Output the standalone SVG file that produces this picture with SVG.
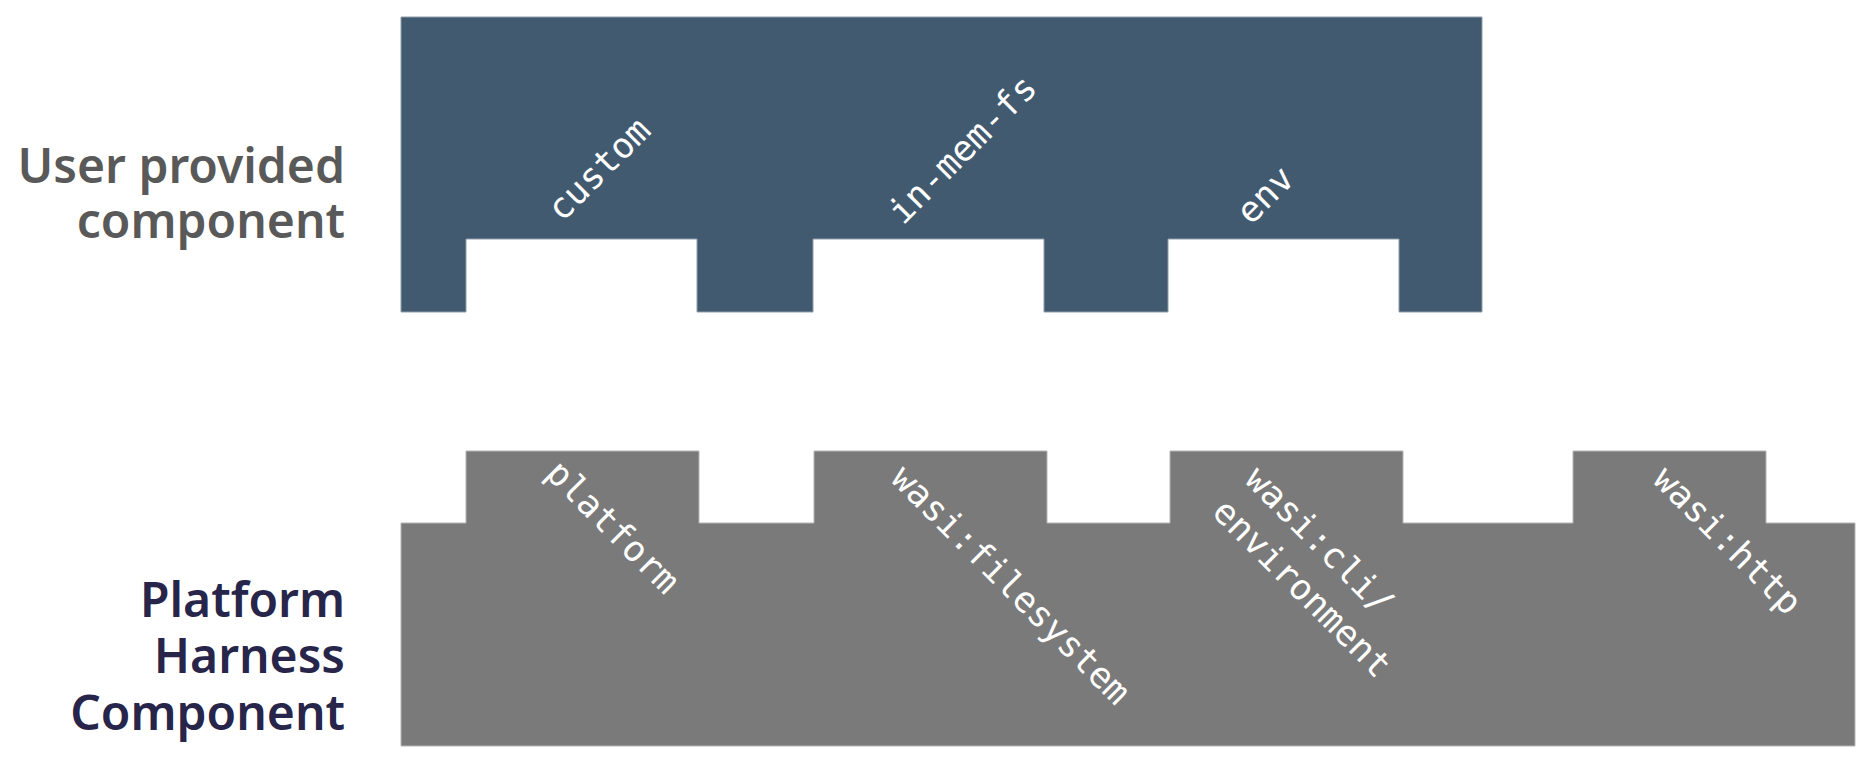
<svg xmlns="http://www.w3.org/2000/svg" width="1876" height="768" viewBox="0 0 1876 768">
  <style>
    .label { font-family: "Noto Sans", "Liberation Sans", sans-serif; font-weight: 600; font-size: 48px; text-anchor: end; }
    .user-label { fill: #595959; }
    .harness-label { fill: #27254a; }
    .slot { font-family: "DejaVu Sans Mono", "Liberation Mono", monospace; font-size: 35.5px; fill: #ffffff; }
    .user-shape { fill: #425a6f; stroke: #8f9dab; stroke-width: 1; }
    .harness-shape { fill: #7a7a7a; stroke: #b5b5b5; stroke-width: 1; }
  </style>
  <rect width="1876" height="768" fill="#ffffff"/>

  <g id="user-component">
    <path class="user-shape" d="M401,17 H1482 V312 H1399 V239 H1168 V312 H1044 V239 H813 V312 H697 V239 H466 V312 H401 Z"/>
    <text class="label user-label"><tspan x="345" y="183">User provided</tspan><tspan x="345" y="238">component</tspan></text>
    <g id="slot-custom"><text class="slot" transform="translate(562,223) rotate(-45)">custom</text></g>
    <g id="slot-in-mem-fs"><text class="slot" transform="translate(903,226) rotate(-45)">in-mem-fs</text></g>
    <g id="slot-env"><text class="slot" transform="translate(1251,226) rotate(-45)">env</text></g>
  </g>

  <g id="harness-component">
    <path class="harness-shape" d="M401,523 H466 V451 H699 V523 H814 V451 H1047 V523 H1170 V451 H1403 V523 H1573 V451 H1766 V523 H1855 V746 H401 Z"/>
    <text class="label harness-label"><tspan x="345" y="617">Platform</tspan><tspan x="345" y="673">Harness</tspan><tspan x="345" y="730">Component</tspan></text>
    <g id="plug-platform"><text class="slot" transform="translate(544,475) rotate(45)">platform</text></g>
    <g id="plug-filesystem"><text class="slot" transform="translate(889,480) rotate(45)">wasi:filesystem</text></g>
    <g id="plug-cli-environment"><text class="slot" transform="translate(1243,481) rotate(45)"><tspan x="0" y="0">wasi:cli/</tspan><tspan x="0" y="46">environment</tspan></text></g>
    <g id="plug-http"><text class="slot" transform="translate(1651,481) rotate(45)">wasi:http</text></g>
  </g>

  <g id="connectors"></g>
</svg>
